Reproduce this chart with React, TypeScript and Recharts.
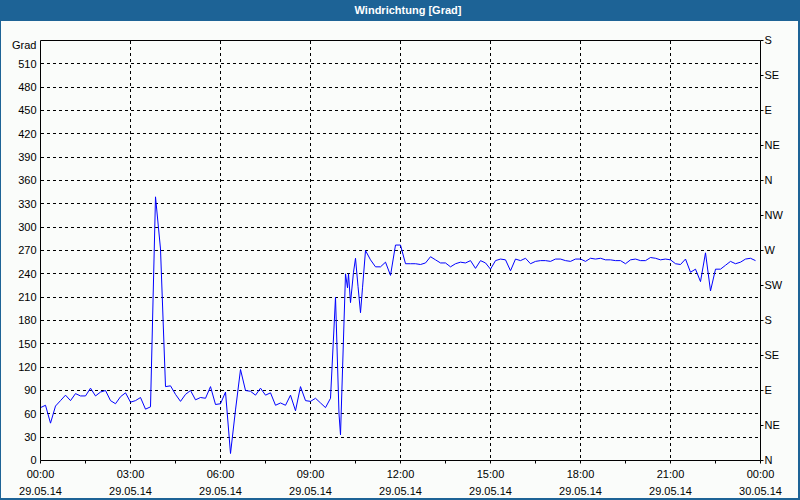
import React from "react";
import { LineChart, Line, XAxis, YAxis, CartesianGrid, ReferenceLine } from "recharts";

// time of day in minutes since 00:00 on 29.05.14
const minutes = [
  0, 10, 20, 30, 40, 50, 60, 70, 80, 90, 100, 110, 120, 130, 140, 150, 160, 170, 180, 190,
  200, 210, 220, 230, 240, 250, 260, 270, 280, 290, 300, 310, 320, 330, 340, 350, 360, 370, 380, 390,
  400, 410, 420, 430, 440, 450, 460, 470, 480, 490, 500, 510, 520, 530, 540, 550, 560, 570, 580, 590,
  597, 600, 610, 614, 616, 620, 626, 630, 635, 640, 644, 650, 660, 670, 680, 690, 700, 710, 720, 730,
  740, 750, 760, 770, 780, 790, 800, 810, 820, 830, 840, 850, 860, 870, 880, 890, 900, 910, 920, 930,
  940, 950, 960, 970, 980, 990, 1000, 1010, 1020, 1030, 1040, 1050, 1060, 1070, 1080, 1090, 1100, 1110, 1120, 1130,
  1140, 1150, 1160, 1170, 1180, 1190, 1200, 1210, 1220, 1230, 1240, 1250, 1260, 1270, 1280, 1290, 1300, 1310, 1320, 1330,
  1340, 1350, 1360, 1370, 1380, 1390, 1400, 1410, 1420, 1430,
];

// wind direction in degrees
const degrees = [
  68, 71, 48, 70, 77, 84, 77, 86, 83, 83, 93, 83, 88, 90, 77, 73, 82, 87, 75, 77,
  81, 66, 69, 339, 272, 95, 96, 85, 76, 85, 90, 78, 81, 80, 95, 72, 73, 88, 9, 65,
  117, 90, 89, 84, 93, 84, 87, 71, 74, 71, 84, 64, 95, 77, 76, 80, 74, 68, 80, 210,
  60, 33, 240, 222, 240, 203, 242, 260, 224, 190, 222, 270, 258, 249, 249, 255, 238, 277, 277, 253,
  253, 253, 252, 254, 262, 258, 254, 254, 249, 253, 255, 254, 257, 247, 257, 254, 246, 257, 259, 258,
  244, 259, 257, 260, 253, 256, 257, 257, 256, 259, 259, 257, 256, 259, 259, 256, 260, 259, 260, 258,
  258, 257, 257, 253, 258, 259, 257, 257, 261, 260, 258, 259, 258, 253, 252, 259, 242, 246, 230, 267,
  218, 246, 246, 251, 256, 253, 255, 259, 260, 257,
];

const xTickValues = [0, 90, 180, 270, 360, 450, 540, 630, 720, 810, 900, 990, 1080, 1170, 1260, 1350, 1440];
const xMajorValues = [0, 180, 360, 540, 720, 900, 1080, 1260, 1440];
const xTimeLabels = ["00:00", "03:00", "06:00", "09:00", "12:00", "15:00", "18:00", "21:00", "00:00"];
const xDateLabels = ["29.05.14", "29.05.14", "29.05.14", "29.05.14", "29.05.14", "29.05.14", "29.05.14", "29.05.14", "30.05.14"];
const gridXValues = [180, 360, 540, 720, 900, 1080, 1260];

const leftTickValues = [0, 30, 60, 90, 120, 150, 180, 210, 240, 270, 300, 330, 360, 390, 420, 450, 480, 510, 540];
const leftTickLabels = ["0", "30", "60", "90", "120", "150", "180", "210", "240", "270", "300", "330", "360", "390", "420", "450", "480", "510", "Grad"];

const rightTickValues = [0, 45, 90, 135, 180, 225, 270, 315, 360, 405, 450, 495, 540];
const rightTickLabels = ["N", "NE", "E", "SE", "S", "SW", "W", "NW", "N", "NE", "E", "SE", "S"];

const title = "Windrichtung [Grad]";

const data = minutes.map((t, i) => ({ t, v: degrees[i] }));

const FONT = '"Liberation Sans", Arial, sans-serif';
const BLUE = "#1d6396";

const XTick = (props: any) => {
  const { x, y, payload } = props;
  const idx = xMajorValues.indexOf(payload.value);
  if (idx < 0) return null;
  return (
    <g>
      <text x={x} y={y + 12.5} textAnchor="middle" fontFamily={FONT} fontSize={11} fill="#000">
        {xTimeLabels[idx]}
      </text>
      <text x={x} y={y + 29.5} textAnchor="middle" fontFamily={FONT} fontSize={11} fill="#000">
        {xDateLabels[idx]}
      </text>
    </g>
  );
};

const LeftTick = (props: any) => {
  const { x, y, payload } = props;
  const idx = leftTickValues.indexOf(payload.value);
  const isUnit = idx === leftTickLabels.length - 1;
  return (
    <text x={x} y={y + (isUnit ? 5 : 0)} dy="0.355em" textAnchor="end" fontFamily={FONT} fontSize={11} fill="#000">
      {leftTickLabels[idx]}
    </text>
  );
};

const RightTick = (props: any) => {
  const { x, y, payload } = props;
  const idx = rightTickValues.indexOf(payload.value);
  return (
    <text x={x} y={y} dy="0.355em" textAnchor="start" fontFamily={FONT} fontSize={11} fill="#000">
      {rightTickLabels[idx]}
    </text>
  );
};

export default function App() {
  return (
    <div
      style={{
        position: "absolute",
        left: 0,
        top: 0,
        width: 800,
        height: 500,
        background: "#fafcfa",
        overflow: "hidden",
      }}
    >
      <div
        style={{
          position: "absolute",
          left: 0,
          top: 0,
          width: 800,
          height: 21,
          background: BLUE,
        }}
      >
        <span
          style={{
            position: "absolute",
            left: 408,
            top: 0,
            transform: "translateX(-50%)",
            lineHeight: "21px",
            color: "#fff",
            fontFamily: FONT,
            fontWeight: "bold",
            fontSize: 11,
            whiteSpace: "nowrap",
          }}
        >
          {title}
        </span>
      </div>
      <div style={{ position: "absolute", left: 0, top: 0 }}>
        <LineChart width={800} height={500} data={data} margin={{ top: 40.5, right: 0, bottom: 0, left: 0 }}>
          <CartesianGrid
            stroke="#000"
            strokeDasharray="3 3"
            verticalValues={gridXValues}
            shapeRendering="crispEdges"
          />
          <XAxis
            dataKey="t"
            type="number"
            domain={[0, 1440]}
            ticks={xTickValues}
            interval={0}
            height={39.5}
            tickSize={3}
            tickMargin={2}
            axisLine={{ stroke: "#000" }}
            tickLine={{ stroke: "#000" }}
            tick={<XTick />}
            allowDataOverflow
          />
          <YAxis
            type="number"
            domain={[0, 540]}
            ticks={leftTickValues}
            interval={0}
            width={40.5}
            tickSize={2}
            tickMargin={2}
            tickLine={false}
            axisLine={{ stroke: "#000" }}
            tick={<LeftTick />}
            allowDataOverflow
          />
          <YAxis
            yAxisId="right"
            orientation="right"
            type="number"
            domain={[0, 540]}
            ticks={rightTickValues}
            interval={0}
            width={39.5}
            tickSize={3}
            tickMargin={1}
            axisLine={{ stroke: "#000" }}
            tickLine={{ stroke: "#000" }}
            tick={<RightTick />}
            allowDataOverflow
          />
          <ReferenceLine y={540} stroke="#000" strokeWidth={1} />
          <Line
            type="linear"
            dataKey="v"
            stroke="#0000ff"
            strokeWidth={1}
            dot={false}
            activeDot={false}
            isAnimationActive={false}
          />
        </LineChart>
      </div>
      <div
        style={{
          position: "absolute",
          left: 0,
          top: 0,
          width: 800,
          height: 500,
          boxSizing: "border-box",
          borderLeft: `1px solid ${BLUE}`,
          borderRight: `2px solid ${BLUE}`,
          borderBottom: `2px solid ${BLUE}`,
          pointerEvents: "none",
        }}
      />
    </div>
  );
}
